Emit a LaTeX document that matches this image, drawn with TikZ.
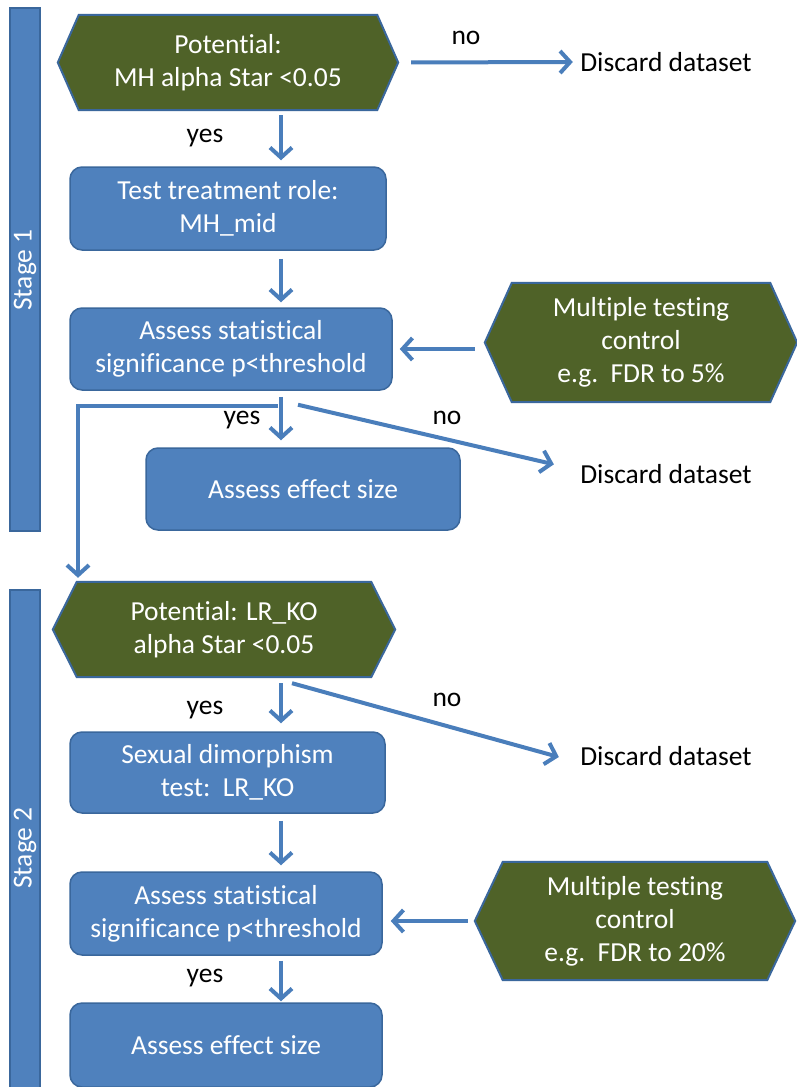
\documentclass[tikz,border=0pt]{standalone}
\usepackage{fontspec}
\setmainfont{Carlito}[Ligatures=NoCommon]
\usetikzlibrary{arrows.meta,backgrounds,calc}
\definecolor{boxblue}{HTML}{4F81BD}
\definecolor{boxedge}{HTML}{3A679C}
\definecolor{hexgreen}{HTML}{4F6228}
\definecolor{arrblue}{HTML}{4A7EBB}
\tikzset{
  txt/.style={font=\fontsize{27.5}{33}\selectfont, align=center},
  blbox/.style={txt, rectangle, rounded corners=12pt, fill=boxblue, draw=boxedge, line width=1.5pt, text=white, inner sep=0pt},
  hexnode/.style={txt, text=white, inner sep=0pt},
  hexpath/.style={fill=hexgreen, draw=boxedge, line width=2pt, line join=miter},
  arr/.style={draw=arrblue, line width=4pt, -{Straight Barb[length=10pt,width=22pt]}},
  plain/.style={txt, text=black},
  stagebar/.style={rectangle, fill=boxblue, draw=boxedge, line width=1.5pt, inner sep=0pt},
  stagetxt/.style={txt, text=white, rotate=90},
}
\newcommand\hexshape[2]{%
  \begin{pgfonlayer}{background}
  \path[hexpath] (#1.west) -- ([xshift=#2]#1.north west) -- ([xshift=-#2]#1.north east) -- (#1.east) -- ([xshift=-#2]#1.south east) -- ([xshift=#2]#1.south west) -- cycle;
  \end{pgfonlayer}}
\begin{document}
\begin{tikzpicture}[x=1pt,y=-1pt]
\useasboundingbox (0,0) rectangle (796,1087);
\begin{pgfonlayer}{background}
\fill[white] (0,0) rectangle (796,1087);
\end{pgfonlayer}
% stage bars
\node[stagebar, minimum width=30pt, minimum height=523pt] (s1) at (25,269.5) {};
\node[stagetxt] (s1t) at (25,270) {Stage 1};
\node[stagebar, minimum width=30pt, minimum height=500pt] (s2) at (25,840) {};
\node[stagetxt] (s2t) at (25,848) {Stage 2};
% column coordinates
\coordinate (ax) at (281,0);
\coordinate (bx) at (78,0);
% stage 1
\node[hexnode, minimum width=340pt, minimum height=95pt] (h1) at (228,62.5) {Potential:\\MH alpha Star <0.05};
\hexshape{h1}{21pt}
\node[blbox, minimum width=316pt, minimum height=83pt] (b2) at (228,208.5) {Test treatment role:\\MH\_mid};
\node[blbox, minimum width=322pt, minimum height=82pt] (b3) at (231,349) {Assess statistical\\significance p<threshold};
\node[blbox, minimum width=314pt, minimum height=82pt] (b4) at (303,489) {Assess effect size};
\node[hexnode, minimum width=312pt, minimum height=119pt] (m1) at (641,342.5) {Multiple testing\\control\\e.g.\ \ FDR to 5\%};
\hexshape{m1}{27pt}
\node[plain] (d1) at (666,62) {Discard dataset};
\node[plain] (d2) at (666,474) {Discard dataset};
% stage 2
\node[hexnode, minimum width=342pt, minimum height=95pt] (h2) at (224,629.5) {Potential: LR\_KO\\alpha Star <0.05};
\hexshape{h2}{24pt}
\node[blbox, minimum width=315pt, minimum height=81pt] (b5) at (227.5,772.5) {Sexual dimorphism\\test:\ \ LR\_KO};
\node[blbox, minimum width=312pt, minimum height=83pt] (b6) at (226,913.5) {Assess statistical\\significance p<threshold};
\node[hexnode, minimum width=320pt, minimum height=118pt] (m2) at (635,921) {Multiple testing\\control\\e.g.\ \ FDR to 20\%};
\hexshape{m2}{28pt}
\node[blbox, minimum width=312pt, minimum height=84pt] (b7) at (226,1045) {Assess effect size};
\node[plain] (d3) at (666,756) {Discard dataset};
% labels
\node[plain] (y1) at (205,138) {yes};
\node[plain] (y2) at (242,420) {yes};
\node[plain] (y3) at (205,710) {yes};
\node[plain] (y4) at (205,978) {yes};
\node[plain] (n1) at (466,38) {no};
\node[plain] (n2) at (447,418) {no};
\node[plain] (n3) at (447,700) {no};
% connectors
\draw[arr, shorten <=5pt, shorten >=6pt] (h1.south -| ax) -- (b2.north -| ax);
\draw[arr, shorten <=13pt, shorten >=4pt] (h1.east) -- (d1.west);
\draw[arr, shorten <=8pt, shorten >=5pt] (b2.south -| ax) -- (b3.north -| ax);
\draw[arr, shorten <=10pt, shorten >=7pt] (m1.west |- b3.east) -- (b3.east);
\draw[arr, shorten <=6pt, shorten >=7pt] (b3.south -| ax) -- (b4.north -| ax);
\coordinate (j1) at ($(b3.south -| ax)+(-3,15)$);
\draw[arr, shorten >=4pt] (j1) -| (h2.north -| bx);
\draw[arr, shorten >=3pt] ($(b3.south)+(67,14)$) -- ($(d2.west)+(-20,-9)$);
\draw[arr, shorten <=6pt, shorten >=8pt] (h2.south -| ax) -- (b5.north -| ax);
\draw[arr] ($(h2.south)+(68,6)$) -- ($(d3.west)+(-18,1)$);
\draw[arr, shorten <=7pt, shorten >=6pt] (b5.south -| ax) -- (b6.north -| ax);
\draw[arr, shorten <=7pt, shorten >=8pt] (m2.west) -- (b6.east |- m2.west);
\draw[arr, shorten <=5pt, shorten >=1pt] (b6.south -| ax) -- (b7.north -| ax);
\end{tikzpicture}
\end{document}
